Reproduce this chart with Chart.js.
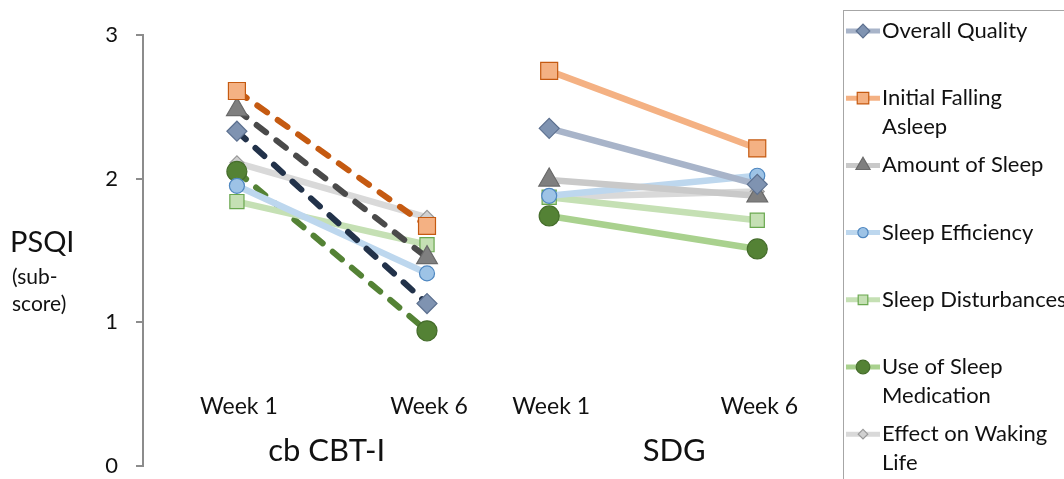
<!DOCTYPE html>
<html>
<head>
<meta charset="utf-8">
<script src="https://cdn.jsdelivr.net/npm/chart.js@4.4.1/dist/chart.umd.min.js"></script>
<style>
  html, body { margin: 0; padding: 0; background: #fff; }
  #wrap { position: relative; width: 1064px; height: 479px; overflow: hidden; }
</style>
</head>
<body>
<div id="wrap"><canvas id="psqiChart" width="1064" height="479"></canvas></div>
<script>
// values
const weeks = [1, 6];
const weekLabels = ['Week 1', 'Week 6'];
const groups = ['cb CBT-I', 'SDG'];
const subscores = ['Overall Quality', 'Initial Falling Asleep', 'Amount of Sleep', 'Sleep Efficiency',
                   'Sleep Disturbances', 'Use of Sleep Medication', 'Effect on Waking Life'];
const legendText = [['Overall Quality'], ['Initial Falling', 'Asleep'], ['Amount of Sleep'], ['Sleep Efficiency'],
                    ['Sleep Disturbances'], ['Use of Sleep', 'Medication'], ['Effect on Waking', 'Life']];
const cbtWeek1 = [2.33, 2.61, 2.48, 1.95, 1.84, 2.05, 2.11];
const cbtWeek6 = [1.13, 1.67, 1.45, 1.34, 1.54, 0.94, 1.73];
const sdgWeek1 = [2.35, 2.75, 1.99, 1.88, 1.87, 1.74, 1.87];
const sdgWeek6 = [1.96, 2.21, 1.88, 2.02, 1.71, 1.51, 1.91];
const yTicks = [0, 1, 2, 3];

const FONT = 'Lato, "Open Sans", sans-serif';

const styles = [
    { shape: 'rectRot',  r: 10,  fill: '#7f93b1', edge: '#5d7190', cbt: '#22324a', dash: true,  sdg: '#a8b4c9' },
    { shape: 'rect',     r: 12,  fill: '#f4b183', edge: '#c55a11', cbt: '#c55a11', dash: true,  sdg: '#f4b183' },
    { shape: 'triangle', r: 12,  fill: '#7f7f7f', edge: '#6a6a6a', cbt: '#4a4a4a', dash: true,  sdg: '#c9c9c9' },
    { shape: 'circle',   r: 7.5, fill: '#9dc3e6', edge: '#4f87c0', cbt: '#bdd7ee', dash: false, sdg: '#bdd7ee' },
    { shape: 'rect',     r: 10,  fill: '#c5e0b4', edge: '#6aa84f', cbt: '#c5e0b4', dash: false, sdg: '#c5e0b4' },
    { shape: 'circle',   r: 10,  fill: '#548235', edge: '#456d2b', cbt: '#548235', dash: true,  sdg: '#a9d18e' },
    { shape: 'rectRot',  r: 7,   fill: '#d0d0d0', edge: '#9a9a9a', cbt: '#d9d9d9', dash: false, sdg: '#d9d9d9' }
];

const datasets = [];
subscores.forEach((name, i) => {
    const s = styles[i];
    const common = {
        label: name,
        pointStyle: s.shape,
        pointRadius: s.r,
        pointHoverRadius: s.r,
        pointBackgroundColor: s.fill,
        pointBorderColor: s.edge,
        pointBorderWidth: 1.2,
        borderWidth: 6.5,
        fill: false,
        tension: 0
    };
    datasets.push({
        ...common,
        xAxisID: 'xc',
        data: weeks.map((w, k) => ({ x: w, y: [cbtWeek1, cbtWeek6][k][i] })),
        borderColor: s.cbt,
        borderWidth: s.dash ? 6 : 6.5,
        borderDash: s.dash ? [12, 13] : [],
        borderCapStyle: s.dash ? 'round' : 'butt'
    });
    datasets.push({
        ...common,
        xAxisID: 'xs',
        data: weeks.map((w, k) => ({ x: w, y: [sdgWeek1, sdgWeek6][k][i] })),
        borderColor: s.sdg
    });
});

// week labels, group names, y title and the boxed legend
const extras = {
    id: 'extras',
    afterDraw(chart) {
        const ctx = chart.ctx;
        const bottom = chart.chartArea.bottom;
        ctx.save();
        ctx.fillStyle = '#111';
        ctx.textAlign = 'center';
        ctx.textBaseline = 'alphabetic';
        [chart.scales.xc, chart.scales.xs].forEach((scale, g) => {
            ctx.font = '23px ' + FONT;
            weeks.forEach((w, k) => ctx.fillText(weekLabels[k], scale.getPixelForValue(w) + 2, bottom - 52));
            ctx.font = '31px ' + FONT;
            ctx.fillText(groups[g], (scale.left + scale.right) / 2 + 10, bottom - 5);
        });

        ctx.textAlign = 'left';
        ctx.font = '29px ' + FONT;
        ctx.fillText('PSQI', 10, 252);
        ctx.font = '21px ' + FONT;
        ctx.fillText('(sub-', 12, 284);
        ctx.fillText('score)', 12, 311);

        // legend
        ctx.strokeStyle = '#a6a6a6';
        ctx.lineWidth = 1;
        ctx.strokeRect(843.5, 10.5, 300, 500);
        ctx.textBaseline = 'middle';
        ctx.font = '22px ' + FONT;
        legendText.forEach((lines, i) => {
            const s = styles[i];
            const y = 31 + i * 67.2;
            ctx.strokeStyle = s.sdg;
            ctx.lineWidth = 5;
            ctx.beginPath();
            ctx.moveTo(846, y);
            ctx.lineTo(880, y);
            ctx.stroke();
            ctx.fillStyle = s.fill;
            ctx.strokeStyle = s.edge;
            ctx.lineWidth = 1.2;
            Chart.helpers.drawPoint(ctx, { pointStyle: s.shape, radius: s.r * 0.68, borderWidth: 1.2, rotation: 0 }, 863, y);
            ctx.fillStyle = '#111';
            lines.forEach((t, j) => ctx.fillText(t, 882, y + j * 29));
        });
        ctx.restore();
    }
};

new Chart(document.getElementById('psqiChart'), {
    type: 'line',
    data: { datasets },
    plugins: [extras],
    options: {
        responsive: false,
        animation: false,
        events: [],
        layout: { padding: { left: 0, top: 35, right: 226, bottom: 9 } },
        plugins: { legend: { display: false }, tooltip: { enabled: false } },
        scales: {
            xc: { type: 'linear', position: 'bottom', stack: 'groups', stackWeight: 1,
                  min: -1.47, max: 7.67, display: false },
            xs: { type: 'linear', position: 'bottom', stack: 'groups', stackWeight: 1,
                  min: -0.41, max: 7.94, display: false },
            y: {
                min: 0, max: 3,
                afterBuildTicks: (scale) => { scale.ticks = yTicks.map(v => ({ value: v })); },
                afterFit: (scale) => { scale.width = 143; scale.paddingTop = 0; scale.paddingBottom = 0; },
                ticks: { font: { family: FONT, size: 22 }, color: '#111', padding: 18 },
                grid: { drawOnChartArea: false, drawTicks: true, tickLength: 7, color: '#8c8c8c', lineWidth: 2 },
                border: { color: '#8c8c8c', width: 2 }
            }
        }
    }
});
</script>
</body>
</html>
